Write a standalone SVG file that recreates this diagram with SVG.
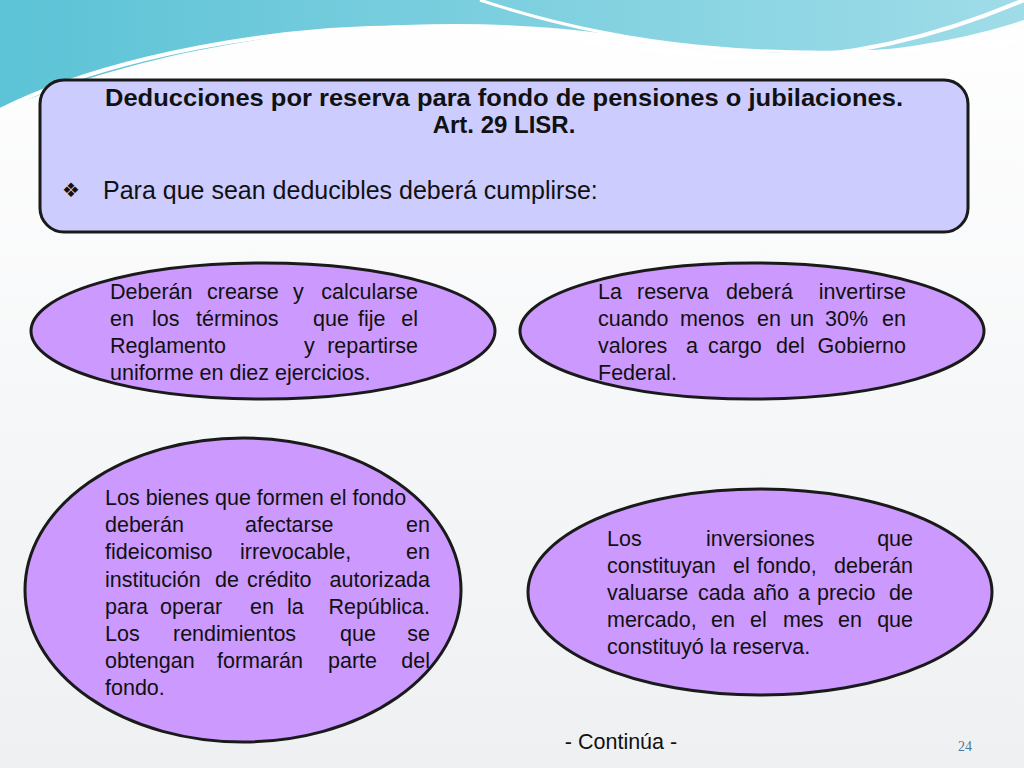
<svg xmlns="http://www.w3.org/2000/svg" width="1024" height="768" viewBox="0 0 1024 768">
<defs>
<linearGradient id="bg" x1="0" y1="0" x2="0" y2="1"><stop offset="0" stop-color="#ffffff"/><stop offset="1" stop-color="#eef0f2"/></linearGradient>
<linearGradient id="wave" x1="0" y1="0" x2="1" y2="0"><stop offset="0" stop-color="#5cc3d6"/><stop offset="1" stop-color="#9fdce8"/></linearGradient>
<style>
.e{fill:#cc99ff;stroke:#1a1a1a;stroke-width:3}
.t{font-family:"Liberation Sans",Arial,sans-serif;font-size:21.5px;fill:#111}
.r{text-anchor:end}
.h{font-family:"Liberation Sans",Arial,sans-serif;font-size:24px;font-weight:bold;fill:#111;text-anchor:middle}
</style>
</defs>
<rect width="1024" height="768" fill="url(#bg)"/>
<path d="M0 0H1024V20C900 60 780 60 650 40C500 15 350 20 200 50C120 66 50 90 0 110Z" fill="url(#wave)"/>
<path d="M0 110C80 70 200 40 330 30C480 20 560 40 700 55C820 68 930 40 1024 0" fill="none" stroke="#ffffff" stroke-width="4"/>
<path d="M480 0C600 40 760 70 1024 40" fill="none" stroke="#ffffff" stroke-width="3"/>
<g id="header">
<rect x="40" y="80" width="928" height="152" rx="24" fill="#ccccff" stroke="#1a1a1a" stroke-width="3"/>
<text class="h" x="504" y="106" textLength="798" lengthAdjust="spacingAndGlyphs">Deducciones por reserva para fondo de pensiones o jubilaciones.</text>
<text class="h" x="504" y="133">Art. 29 LISR.</text>
<text x="62" y="197" style="font-family:'DejaVu Sans',sans-serif;font-size:20px;fill:#111">❖</text>
<text class="t" x="103" y="199" style="font-size:25px">Para que sean deducibles deberá cumplirse:</text>
</g>
<g id="n1">
<ellipse class="e" cx="263" cy="331" rx="232" ry="68"/>
<text class="t" y="299"><tspan x="110">Deberán</tspan><tspan x="207">crearse</tspan><tspan x="293">y</tspan><tspan x="418" class="r">calcularse</tspan></text>
<text class="t" y="326"><tspan x="110">en</tspan><tspan x="152">los</tspan><tspan x="196">términos</tspan><tspan x="313">que</tspan><tspan x="358">fije</tspan><tspan x="418" class="r">el</tspan></text>
<text class="t" y="353"><tspan x="110">Reglamento</tspan><tspan x="304">y</tspan><tspan x="418" class="r">repartirse</tspan></text>
<text class="t" x="110" y="380">uniforme en diez ejercicios.</text>
</g>
<g id="n2">
<ellipse class="e" cx="752" cy="331" rx="232" ry="68"/>
<text class="t" y="299"><tspan x="598">La</tspan><tspan x="637">reserva</tspan><tspan x="726">deberá</tspan><tspan x="906" class="r">invertirse</tspan></text>
<text class="t" y="326"><tspan x="598">cuando</tspan><tspan x="680">menos</tspan><tspan x="757">en</tspan><tspan x="790">un</tspan><tspan x="825">30%</tspan><tspan x="906" class="r">en</tspan></text>
<text class="t" y="353"><tspan x="598">valores</tspan><tspan x="686">a</tspan><tspan x="708">cargo</tspan><tspan x="776">del</tspan><tspan x="906" class="r">Gobierno</tspan></text>
<text class="t" x="598" y="380">Federal.</text>
</g>
<g id="n3">
<ellipse class="e" cx="243" cy="590" rx="218" ry="152"/>
<text class="t" x="105" y="505">Los bienes que formen el fondo</text>
<text class="t" y="532"><tspan x="105">deberán</tspan><tspan x="245">afectarse</tspan><tspan x="430" class="r">en</tspan></text>
<text class="t" y="559"><tspan x="105">fideicomiso</tspan><tspan x="240">irrevocable,</tspan><tspan x="430" class="r">en</tspan></text>
<text class="t" y="587"><tspan x="105">institución</tspan><tspan x="215">de</tspan><tspan x="247">crédito</tspan><tspan x="430" class="r">autorizada</tspan></text>
<text class="t" y="614"><tspan x="105">para</tspan><tspan x="160">operar</tspan><tspan x="250">en</tspan><tspan x="287">la</tspan><tspan x="430" class="r">República.</tspan></text>
<text class="t" y="641"><tspan x="105">Los</tspan><tspan x="173">rendimientos</tspan><tspan x="340">que</tspan><tspan x="430" class="r">se</tspan></text>
<text class="t" y="668"><tspan x="105">obtengan</tspan><tspan x="217">formarán</tspan><tspan x="328">parte</tspan><tspan x="430" class="r">del</tspan></text>
<text class="t" x="105" y="695">fondo.</text>
</g>
<g id="n4">
<ellipse class="e" cx="760" cy="592" rx="232" ry="103"/>
<text class="t" y="546"><tspan x="607">Los</tspan><tspan x="706">inversiones</tspan><tspan x="913" class="r">que</tspan></text>
<text class="t" y="573"><tspan x="607">constituyan</tspan><tspan x="733">el</tspan><tspan x="757">fondo,</tspan><tspan x="913" class="r">deberán</tspan></text>
<text class="t" y="600"><tspan x="607">valuarse</tspan><tspan x="698">cada</tspan><tspan x="753">año</tspan><tspan x="798">a</tspan><tspan x="817">precio</tspan><tspan x="913" class="r">de</tspan></text>
<text class="t" y="627"><tspan x="607">mercado,</tspan><tspan x="711">en</tspan><tspan x="750">el</tspan><tspan x="783">mes</tspan><tspan x="838">en</tspan><tspan x="913" class="r">que</tspan></text>
<text class="t" x="607" y="654">constituyó la reserva.</text>
</g>
<g id="connectors"/>
<text class="t" x="621" y="749" text-anchor="middle">- Continúa -</text>
<text x="965" y="751" text-anchor="middle" style="font-family:'Liberation Serif',serif;font-size:14px;fill:#4a7a9a">24</text>
</svg>
